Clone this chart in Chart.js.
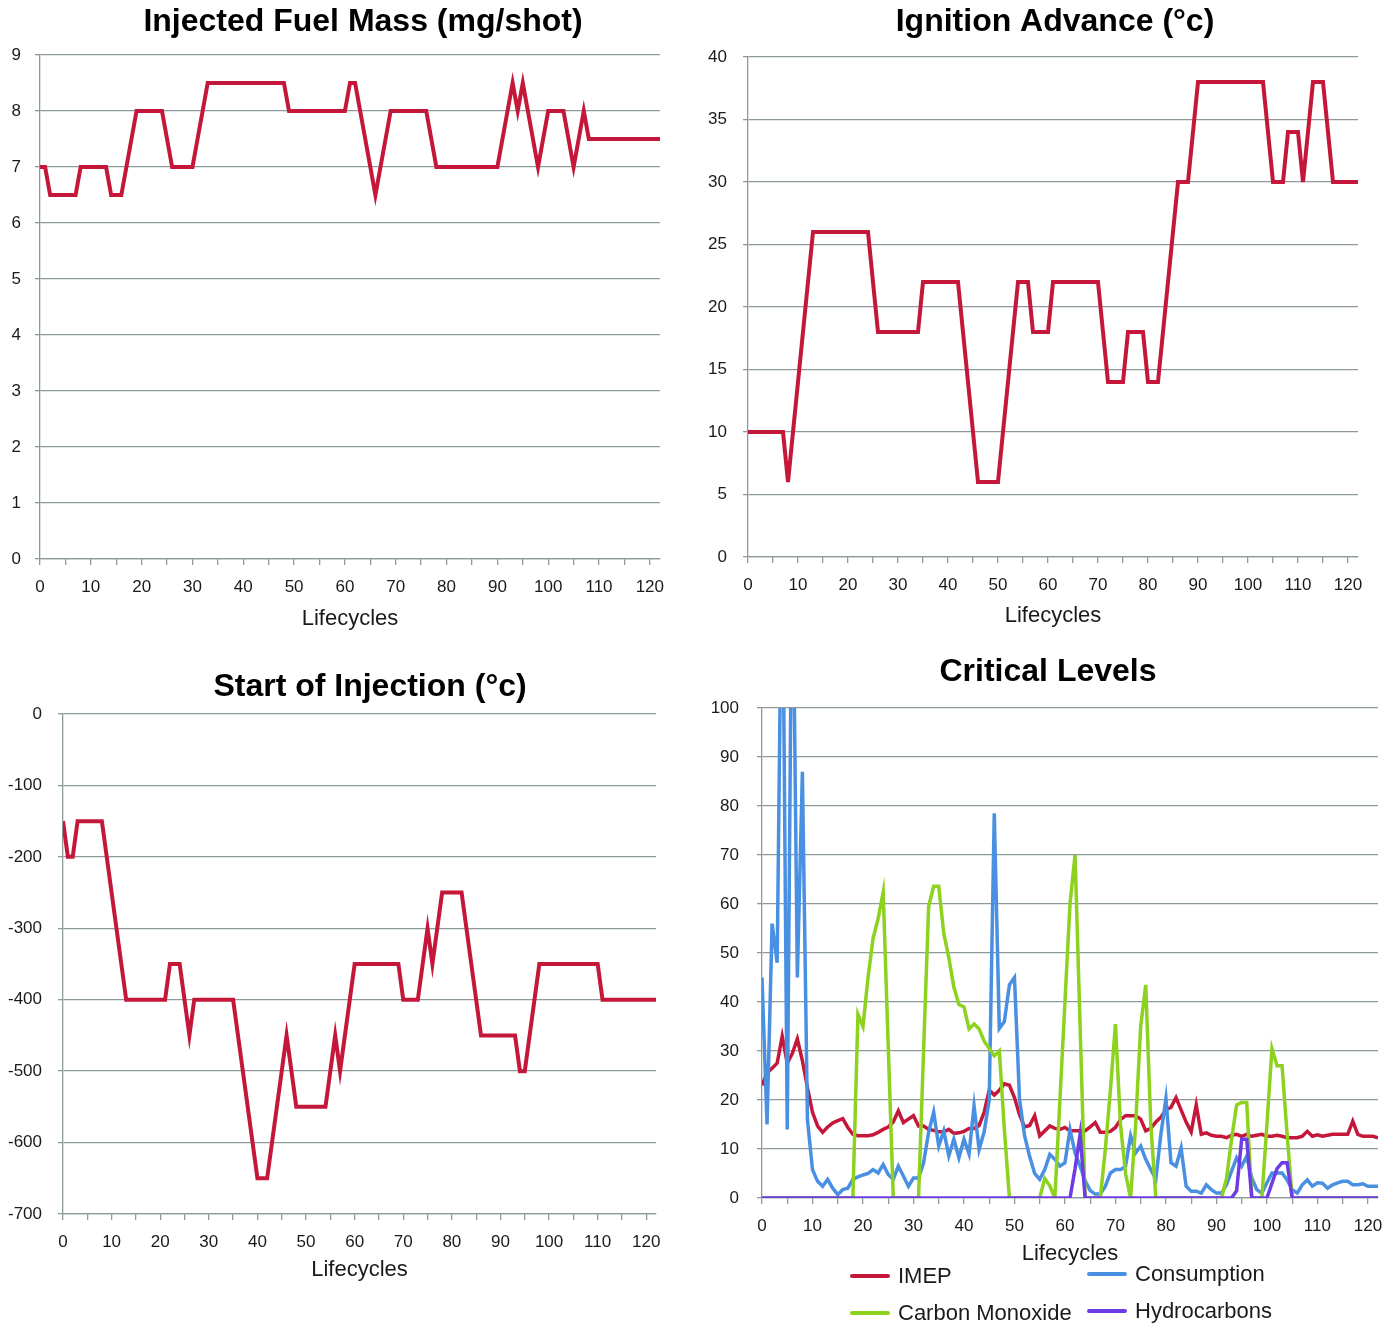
<!DOCTYPE html>
<html>
<head>
<meta charset="utf-8">
<script src="https://cdn.jsdelivr.net/npm/chart.js@4.4.0/dist/chart.umd.min.js"></script>
<style>
html,body{margin:0;padding:0;background:#fff;overflow:hidden;width:1397px;height:1326px;}
canvas{position:absolute;}
.lg-text{position:absolute;font-family:"Liberation Sans",Arial,sans-serif;font-size:22px;line-height:26px;color:#1a1a1a;white-space:nowrap;}
.lg-sw{position:absolute;height:4px;width:40px;border-radius:2px;}
</style>
</head>
<body>
<canvas id="c1" width="726" height="640" style="left:0px;top:0px"></canvas>
<canvas id="c2" width="710" height="640" style="left:700px;top:0px"></canvas>
<canvas id="c3" width="740" height="640" style="left:0px;top:650px"></canvas>
<canvas id="c4" width="696" height="625" style="left:700px;top:650px"></canvas>
<div id="legend"></div>
<script>
// ---------------- DATA ----------------
const titles = ['Injected Fuel Mass (mg/shot)', 'Ignition Advance (°c)', 'Start of Injection (°c)', 'Critical Levels'];
const xAxisTitle = 'Lifecycles';

// Injected Fuel Mass (vertices of the line)
const fuelX = [0,1,2,7,8,13,14,16,19,24,26,30,33,48,49,60,61,62,66,69,76,78,90,93,94,95,98,100,103,105,107,108,122];
const fuelY = [7,7,6.5,6.5,7,7,6.5,6.5,8,8,7,7,8.5,8.5,8,8,8.5,8.5,6.5,8,8,7,7,8.5,8,8.5,7,8,8,7,8,7.5,7.5];

// Ignition Advance
const ignX = [0,7,8,13,24,26,34,35,42,46,50,54,56,57,60,61,70,72,75,76,79,80,82,86,88,90,103,105,107,108,110,111,113,115,117,122];
const ignY = [10,10,6,26,26,18,18,22,22,6,6,22,22,18,18,22,22,14,14,18,18,14,14,30,30,38,38,30,30,34,34,30,38,38,30,30];

// Start of Injection
const soiX = [0,1,2,3,8,13,21,22,24,26,27,35,40,42,46,48,54,56,57,60,69,70,73,75,76,78,82,86,93,94,95,98,110,111,122];
const soiY = [-150,-200,-200,-150,-150,-400,-400,-350,-350,-450,-400,-400,-650,-650,-450,-550,-550,-450,-500,-350,-350,-400,-400,-300,-350,-250,-250,-450,-450,-500,-500,-350,-350,-400,-400];

// Critical Levels (one value per lifecycle 0..122)
const lifecycles = Array.from({length:123}, (_, i) => i);
const seriesNames = ['IMEP', 'Consumption', 'Carbon Monoxide', 'Hydrocarbons'];
const imep = [23,25.5,26.5,27.5,33,27.5,29.5,32.5,28,22.5,
  17.5,14.7,13.4,14.5,15.3,15.8,16.2,14.4,13,12.7,
  12.7,12.7,12.9,13.4,14,14.5,15.5,17.8,15.4,16.1,
  16.8,14.7,14.7,14,13.8,13.5,13.5,14,13.2,13.3,
  13.6,14.2,14.2,14.8,17.5,22,21,22,23.3,23,
  20.5,17,14.5,14.8,16.8,12.7,13.7,14.7,14.2,14,
  14.4,13.7,13.7,13.7,13.7,14.5,15.4,13.4,13.4,13.6,
  14.4,16,16.8,16.8,16.8,16.1,13.7,14.2,15.5,16.5,
  18,18.5,20.5,18,15.5,13.5,19,13,13.3,12.8,
  12.6,12.6,12.3,12.8,13,12.6,13,12.6,12.8,13,
  12.6,12.6,12.8,12.6,12.3,12.3,12.3,12.6,13.6,12.6,
  12.9,12.6,12.8,13,13,13,13,15.7,13,12.6,
  12.6,12.6,12.3];
const consumption = [45,15,56,48,140,14,140,45,87,16,
  5.8,3.4,2.4,3.8,2,0.7,1.7,2,3.8,4.3,
  4.7,5,5.8,5.1,6.8,4.8,3.8,6.5,4.5,2.4,
  4.1,4.1,7.2,13.4,17.5,10.6,13.7,8.6,12,8.2,
  12,9,18.8,9.9,13.5,20,78.5,34.6,36,43.5,
  45,20.2,12.7,8.5,5,3.8,5.8,8.9,7.9,6.5,
  7.2,14,9.2,6.5,3.5,1.5,0.8,0.8,2.4,5.1,
  5.8,5.8,6.5,12.7,9.2,10.6,7.9,5.8,3.8,13,
  20.3,7.2,6.5,10.2,2.4,1.4,1.4,1,2.7,1.7,
  1,1,2.7,5.5,8.2,6.5,8.5,4.1,1.7,1,
  3.1,5.1,5.1,5.1,3.7,1.7,1,2.7,3.7,2.4,
  3.1,3,2,2.7,3.1,3.4,3.4,2.7,2.7,2.9,
  2.4,2.4,2.4];
const carbonMonoxide = [0,0,0,0,0,0,0,0,0,0,
  0,0,0,0,0,0,0,0,0,37.5,
  35,45,53,57,62.4,31,0,0,0,0,
  0,0,30,59.5,63.6,63.6,54,49,43,39.5,
  39,34.5,35.5,34.5,32,30.5,29,30,14,0,
  0,0,0,0,0,0,4,2.5,0,20,
  40,60,70,35,0,0,0,0,10,22,
  35.5,15,5,0,15,35,43.5,15,0,0,
  0,0,0,0,0,0,0,0,0,0,
  0,0,4,12,19,19.5,19.5,0,0,0,
  15,30.5,27,27,13,0,0,0,0,0,
  0,0,0,0,0,0,0,0,0,0,
  0,0,0];
const hydrocarbons = [0,0,0,0,0,0,0,0,0,0,
  0,0,0,0,0,0,0,0,0,0,
  0,0,0,0,0,0,0,0,0,0,
  0,0,0,0,0,0,0,0,0,0,
  0,0,0,0,0,0,0,0,0,0,
  0,0,0,0,0,0,0,0,0,0,
  0,0,6,13,0,0,0,0,0,0,
  0,0,0,0,0,0,0,0,0,0,
  0,0,0,0,0,0,0,0,0,0,
  0,0,0,0,1.5,12,12,0,0,0,
  0,3,6,7.2,7.2,0,0,0,0,0,
  0,0,0,0,0,0,0,0,0,0,
  0,0,0];

// ---------------- STYLE ----------------
const RED = '#C4173A', BLUE = '#4A90E2', GREEN = '#8CD21E', PURPLE = '#6E3CE6';
const GRID = '#8E9A9A';
const TXT = '#1a1a1a';
Chart.defaults.font.family = '"Liberation Sans", Arial, sans-serif';

function pts(xs, ys) { return xs.map((x, i) => ({x: x, y: ys[i]})); }

function makeOptions(o) {
  return {
    responsive: false, animation: false, devicePixelRatio: 1,
    layout: {padding: 0},
    plugins: {
      legend: {display: false},
      tooltip: {enabled: false},
      title: {display: true, text: o.title, color: '#000',
        font: {size: 32, weight: 'bold'}, padding: {top: o.tTop, bottom: o.tBottom}}
    },
    scales: {
      x: {
        type: 'linear', min: 0, max: 122,
        ticks: {stepSize: 5, autoSkip: false, maxRotation: 0, minRotation: 0, includeBounds: false,
          padding: 11.8, color: TXT, font: {size: 17},
          callback: v => (v % 10 === 0 ? String(v) : '')},
        grid: {drawOnChartArea: false, drawTicks: true, tickLength: 6, color: GRID, lineWidth: 1.3},
        border: {display: true, color: GRID, width: 1.3},
        title: {display: true, text: xAxisTitle, color: TXT, font: {size: 22}, padding: {top: 0, bottom: o.xtB}},
        afterFit: s => { s.height = o.xH; }
      },
      y: {
        min: o.ymin, max: o.ymax,
        ticks: {stepSize: o.ystep, padding: o.yPad, color: TXT, font: {size: 17}},
        grid: {color: GRID, lineWidth: 1.3, drawTicks: true, tickLength: 5},
        border: {display: true, color: GRID, width: 1.3},
        afterFit: s => { s.width = o.yW; }
      },
      y2: {
        position: 'right', display: true,
        grid: {display: false}, ticks: {display: false}, border: {display: false},
        afterFit: s => { s.width = o.rW; }
      }
    }
  };
}

function lineDs(label, data, color, width, order) {
  return {label: label, data: data, borderColor: color, backgroundColor: color, borderWidth: width,
    pointRadius: 0, tension: 0, fill: false, order: order, yAxisID: 'y'};
}

new Chart(document.getElementById('c1'), {
  type: 'line',
  data: {datasets: [lineDs(titles[0], pts(fuelX, fuelY), RED, 4, 1)]},
  options: makeOptions({title: titles[0], tTop: 2.8, tBottom: 13.8, xH: 81, xtB: 7.8,
    ymin: 0, ymax: 9, ystep: 1, yPad: 14, yW: 40, rW: 66})
});

new Chart(document.getElementById('c2'), {
  type: 'line',
  data: {datasets: [lineDs(titles[1], pts(ignX, ignY), RED, 4, 1)]},
  options: makeOptions({title: titles[1], tTop: 2.8, tBottom: 15.8, xH: 83, xtB: 10.8,
    ymin: 0, ymax: 40, ystep: 5, yPad: 16, yW: 48, rW: 52})
});

new Chart(document.getElementById('c3'), {
  type: 'line',
  data: {datasets: [lineDs(titles[2], pts(soiX, soiY), RED, 4, 1)]},
  options: makeOptions({title: titles[2], tTop: 17.8, tBottom: 7.8, xH: 76, xtB: 6.8,
    ymin: -700, ymax: 0, ystep: 100, yPad: 16, yW: 63, rW: 84})
});

const critColors = [RED, BLUE, GREEN, PURPLE];
const critSeries = [imep, consumption, carbonMonoxide, hydrocarbons];
new Chart(document.getElementById('c4'), {
  type: 'line',
  data: {datasets: critSeries.map((s, i) => lineDs(seriesNames[i], pts(lifecycles, s), critColors[i], 3.5, 4 - i))},
  options: makeOptions({title: titles[3], tTop: 2.8, tBottom: 16.8, xH: 77, xtB: 7.8,
    ymin: 0, ymax: 100, ystep: 10, yPad: 18, yW: 62, rW: 18})
});

// HTML legend for Critical Levels (2 x 2 grid)
const legendPos = [[850, 1276], [1087, 1274], [850, 1313], [1087, 1311]];
const lg = document.getElementById('legend');
seriesNames.forEach((name, i) => {
  const [lx, ly] = legendPos[i];
  const sw = document.createElement('div');
  sw.className = 'lg-sw';
  sw.style.left = lx + 'px'; sw.style.top = (ly - 2) + 'px'; sw.style.background = critColors[i];
  lg.appendChild(sw);
  const t = document.createElement('div');
  t.className = 'lg-text';
  t.textContent = name;
  t.style.left = (lx + 48) + 'px'; t.style.top = (ly - 13) + 'px';
  lg.appendChild(t);
});
</script>
</body>
</html>
